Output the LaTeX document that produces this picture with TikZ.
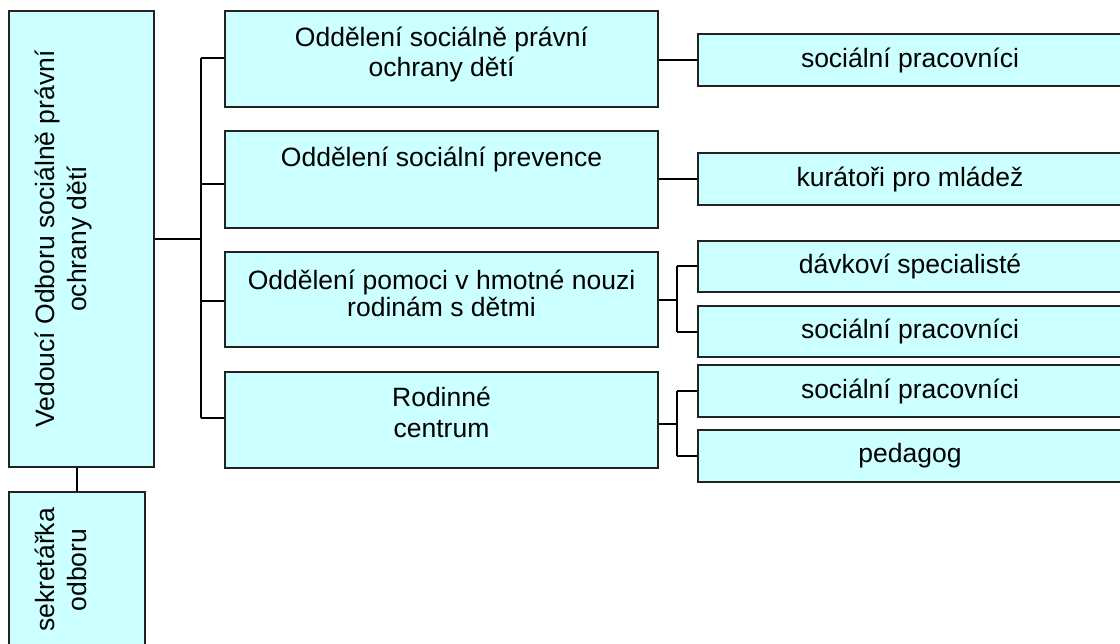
\documentclass[tikz,border=0pt]{standalone}
\usepackage{fontspec}
\setmainfont{Liberation Sans}
\definecolor{boxcyan}{HTML}{CCFFFF}
\definecolor{boxedge}{HTML}{222222}
\begin{document}
\begin{tikzpicture}[x=1bp,y=-1bp,
  box/.style={rectangle, draw=boxedge, fill=boxcyan, line width=2bp, inner sep=0pt,
    align=center, font=\fontsize{26.5bp}{30bp}\selectfont},
  txt/.style={inner sep=0pt, align=center},
  conn/.style={line width=2bp, draw=black}]
\useasboundingbox (0,0) rectangle (1120,644);
\fill[white] (0,0) rectangle (1120,644);
\clip (0,0) rectangle (1120,644);

% left column
\node[box, minimum width=145bp, minimum height=456bp] (L) at (81.5,239) {};
\node[box, minimum width=136bp, minimum height=170bp, anchor=north] (S) at (77,491) {};
\node[txt, rotate=90, font=\fontsize{26.5bp}{32bp}\selectfont] (Lt) at (63.8,239)
  {Vedoucí Odboru sociálně právní\\ochrany dětí};
\node[txt, rotate=90, font=\fontsize{26.5bp}{32bp}\selectfont] (St) at (61,570)
  {sekretářka\\odboru};

% middle column
\node[box, minimum width=433bp, minimum height=96bp] (M1) at (441.5,59) {};
\node[box, minimum width=433bp, minimum height=97bp] (M2) at (441.5,179.5) {};
\node[box, minimum width=433bp, minimum height=95bp] (M3) at (441.5,299.5) {};
\node[box, minimum width=433bp, minimum height=96bp] (M4) at (441.5,420) {};
\node[txt, font=\fontsize{26.5bp}{30bp}\selectfont] (T1) at (441.5,54.8)
  {Oddělení sociálně právní\\ochrany dětí};
\node[txt, font=\fontsize{26.5bp}{30bp}\selectfont] (T2) at (441.5,159.8)
  {Oddělení sociální prevence};
\node[txt, font=\fontsize{26.5bp}{27bp}\selectfont] (T3) at (441.5,293.5)
  {Oddělení pomoci v hmotné nouzi\\rodinám s dětmi};
\node[txt, font=\fontsize{26.5bp}{31.5bp}\selectfont] (T4) at (441.5,412.5)
  {Rodinné\\centrum};

% right column
\node[box, minimum width=424bp, minimum height=52bp] (R1) at (910,60) {sociální pracovníci};
\node[box, minimum width=424bp, minimum height=52bp] (R2) at (910,179) {kurátoři pro mládež};
\node[box, minimum width=424bp, minimum height=51bp] (R3) at (910,266.5) {dávkoví specialisté};
\node[box, minimum width=424bp, minimum height=51bp] (R4) at (910,331.5) {sociální pracovníci};
\node[box, minimum width=424bp, minimum height=52bp] (R5) at (910,391) {sociální pracovníci};
\node[box, minimum width=424bp, minimum height=52bp] (R6) at (910,456) {pedagog};

% connectors: left
\coordinate (b1) at (201,58);
\coordinate (b2) at (201,184);
\coordinate (b3) at (201,301);
\coordinate (b4) at (201,418);
\draw[conn] (S.north) -- (S.north |- L.south);
\draw[conn] (L.east) -- (L.east -| b1);
\draw[conn] (b1) -- (b4);
\draw[conn] (b1) -- (b1 -| M1.west);
\draw[conn] (b2) -- (b2 -| M2.west);
\draw[conn] (b3) -- (b3 -| M3.west);
\draw[conn] (b4) -- (b4 -| M4.west);

% connectors: right
\draw[conn] (R1.west -| M1.east) -- (R1.west);
\draw[conn] (R2.west -| M2.east) -- (R2.west);
\coordinate (j3) at (677,300);
\coordinate (j4) at (677,424);
\draw[conn] (j3 -| M3.east) -- (j3);
\draw[conn] (j3 |- R3.west) -- (j3 |- R4.west);
\draw[conn] (j3 |- R3.west) -- (R3.west);
\draw[conn] (j3 |- R4.west) -- (R4.west);
\draw[conn] (j4 -| M4.east) -- (j4);
\draw[conn] (j4 |- R5.west) -- (j4 |- R6.west);
\draw[conn] (j4 |- R5.west) -- (R5.west);
\draw[conn] (j4 |- R6.west) -- (R6.west);
\end{tikzpicture}
\end{document}
